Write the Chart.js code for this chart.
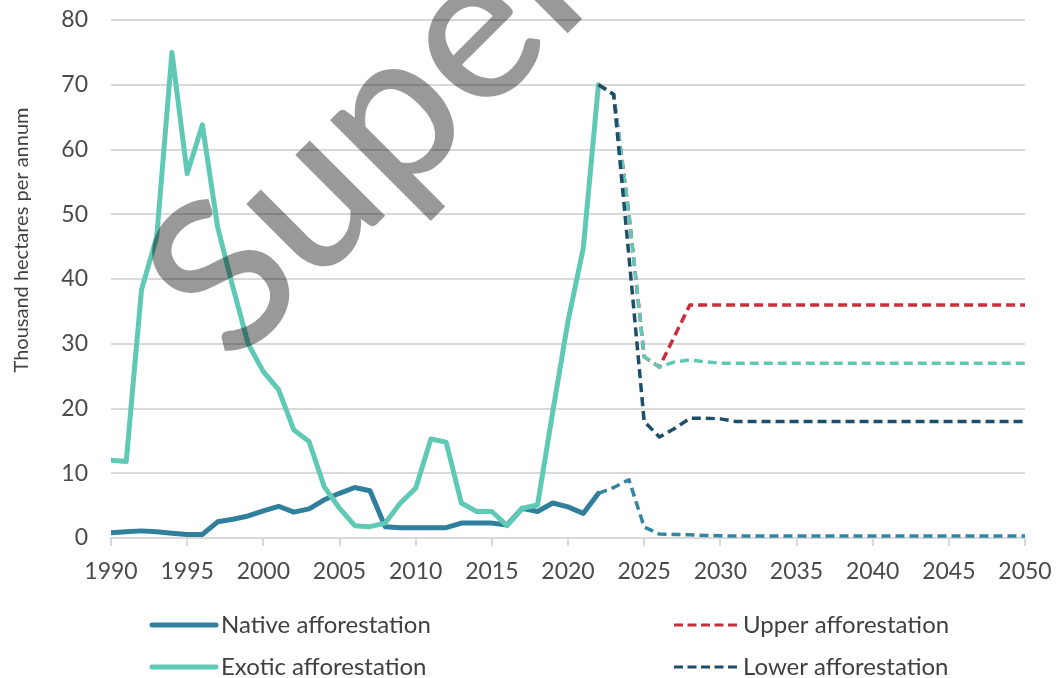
<!DOCTYPE html>
<html>
<head>
<meta charset="utf-8">
<script src="https://cdn.jsdelivr.net/npm/chart.js@4.4.1/dist/chart.umd.min.js"></script>
<style>
    html, body { margin: 0; padding: 0; background: #ffffff; }
    #wrap { width: 1056px; height: 678px; }
</style>
</head>
<body>
<div id="wrap"><canvas id="grafico" width="1056" height="678"></canvas></div>
<script>
const histYears = [1990, 1991, 1992, 1993, 1994, 1995, 1996, 1997, 1998, 1999,
    2000, 2001, 2002, 2003, 2004, 2005, 2006, 2007, 2008, 2009,
    2010, 2011, 2012, 2013, 2014, 2015, 2016, 2017, 2018, 2019,
    2020, 2021, 2022];
const projYears = [2022, 2023, 2024, 2025, 2026, 2027, 2028, 2029, 2030, 2031,
    2032, 2033, 2034, 2035, 2036, 2037, 2038, 2039, 2040, 2041,
    2042, 2043, 2044, 2045, 2046, 2047, 2048, 2049, 2050];

const nativeHist = [0.8, 0.95, 1.1, 0.95, 0.75, 0.55, 0.55, 2.5, 2.9, 3.4,
    4.2, 4.9, 4.0, 4.5, 5.9, 6.9, 7.8, 7.3, 1.75, 1.6,
    1.6, 1.6, 1.6, 2.3, 2.3, 2.3, 2.0, 4.6, 4.1, 5.4,
    4.8, 3.8, 6.9];
const exoticHist = [12.0, 11.8, 38.3, 46.5, 75.0, 56.3, 63.8, 48.0, 38.8, 30.0,
    25.7, 22.9, 16.7, 14.9, 7.9, 4.6, 1.9, 1.75, 2.3, 5.4,
    7.7, 15.3, 14.8, 5.4, 4.1, 4.1, 1.9, 4.6, 5.1, 19.5,
    33.5, 44.7, 70.0];

const nativeProj = [6.9, 7.8, 9.0, 1.7, 0.6, 0.55, 0.5, 0.4, 0.35, 0.3,
    0.3, 0.3, 0.3, 0.3, 0.3, 0.3, 0.3, 0.3, 0.3, 0.3,
    0.3, 0.3, 0.3, 0.3, 0.3, 0.3, 0.3, 0.3, 0.3];
const exoticProj = [70.0, 68.5, 50.0, 28.0, 26.4, 27.2, 27.5, 27.2, 27.0, 27.0,
    27.0, 27.0, 27.0, 27.0, 27.0, 27.0, 27.0, 27.0, 27.0, 27.0,
    27.0, 27.0, 27.0, 27.0, 27.0, 27.0, 27.0, 27.0, 27.0];
const upperProj = [70.0, 68.5, 50.0, 28.0, 26.4, 31.2, 36.0, 36.0, 36.0, 36.0,
    36.0, 36.0, 36.0, 36.0, 36.0, 36.0, 36.0, 36.0, 36.0, 36.0,
    36.0, 36.0, 36.0, 36.0, 36.0, 36.0, 36.0, 36.0, 36.0];
const lowerProj = [70.0, 68.5, 43.5, 18.0, 15.6, 16.9, 18.5, 18.5, 18.4, 18.0,
    18.0, 18.0, 18.0, 18.0, 18.0, 18.0, 18.0, 18.0, 18.0, 18.0,
    18.0, 18.0, 18.0, 18.0, 18.0, 18.0, 18.0, 18.0, 18.0];

const yTicks = [0, 10, 20, 30, 40, 50, 60, 70, 80];
const xTicks = [1990, 1995, 2000, 2005, 2010, 2015, 2020, 2025, 2030, 2035, 2040, 2045, 2050];

const corNativo = '#2f7f9d';
const corExotico = '#5fc9b6';
const corSuperior = '#c5303c';
const corInferior = '#1c4f69';

const fonte = 'Lato, "Open Sans", sans-serif';

function pontos(xs, ys) {
    return xs.map((x, i) => ({ x: x, y: ys[i] }));
}

const legendaItens = [
    { texto: 'Native afforestation', cor: corNativo, tracejado: false, col: 0, lin: 0 },
    { texto: 'Upper afforestation', cor: corSuperior, tracejado: true, col: 1, lin: 0 },
    { texto: 'Exotic afforestation', cor: corExotico, tracejado: false, col: 0, lin: 1 },
    { texto: 'Lower afforestation', cor: corInferior, tracejado: true, col: 1, lin: 1 }
];

// desenha titulo do eixo, legenda e a marca d'agua
const extras = {
    id: 'extras',
    afterDraw(chart) {
        const ctx = chart.ctx;

        ctx.save();
        ctx.translate(22, 240);
        ctx.rotate(-Math.PI / 2);
        ctx.font = '20px ' + fonte;
        ctx.fillStyle = '#404040';
        ctx.textAlign = 'center';
        ctx.textBaseline = 'middle';
        ctx.fillText('Thousand hectares per annum', 0, 0);
        ctx.restore();

        const colX = [150, 672];
        const linY = [625, 667];
        legendaItens.forEach(item => {
            const x = colX[item.col];
            const y = linY[item.lin];
            ctx.save();
            ctx.strokeStyle = item.cor;
            if (item.tracejado) {
                ctx.lineWidth = 3;
                ctx.setLineDash([9, 4.5]);
                ctx.lineCap = 'butt';
            } else {
                ctx.lineWidth = 5;
                ctx.lineCap = 'round';
            }
            ctx.beginPath();
            ctx.moveTo(x + 2, y);
            ctx.lineTo(x + 66, y);
            ctx.stroke();
            ctx.setLineDash([]);
            ctx.font = '24px ' + fonte;
            ctx.fillStyle = '#404040';
            ctx.textAlign = 'left';
            ctx.textBaseline = 'middle';
            ctx.fillText(item.texto, x + 71, y);
            ctx.restore();
        });

        ctx.save();
        ctx.translate(233, 368);
        ctx.rotate(-Math.PI / 4);
        ctx.font = '500 210px ' + fonte;
        ctx.fillStyle = 'rgba(0, 0, 0, 0.4)';
        ctx.textAlign = 'left';
        ctx.textBaseline = 'alphabetic';
        ctx.fillText('Super', 0, 0);
        ctx.restore();
    }
};

const ctx = document.getElementById('grafico').getContext('2d');

new Chart(ctx, {
    type: 'line',
    data: {
        datasets: [
            {
                label: 'Lower afforestation',
                data: pontos(projYears, lowerProj),
                borderColor: corInferior,
                borderWidth: 3.5,
                borderDash: [9, 5]
            },
            {
                label: 'Exotic projection',
                data: pontos(projYears, exoticProj),
                borderColor: corExotico,
                borderWidth: 3.5,
                borderDash: [9, 5]
            },
            {
                label: 'Upper afforestation',
                data: pontos(projYears, upperProj),
                borderColor: corSuperior,
                borderWidth: 3.5,
                borderDash: [9, 5]
            },
            {
                label: 'Native projection',
                data: pontos(projYears, nativeProj),
                borderColor: '#3584a2',
                borderWidth: 3.5,
                borderDash: [9, 5]
            },
            {
                label: 'Exotic afforestation',
                data: pontos(histYears, exoticHist),
                borderColor: corExotico,
                borderWidth: 5,
                borderCapStyle: 'round'
            },
            {
                label: 'Native afforestation',
                data: pontos(histYears, nativeHist),
                borderColor: corNativo,
                borderWidth: 5,
                borderCapStyle: 'round'
            }
        ]
    },
    options: {
        responsive: false,
        animation: false,
        layout: {
            padding: { left: 0, right: 31, top: 20, bottom: 0 }
        },
        elements: {
            point: { radius: 0 },
            line: { tension: 0, borderJoinStyle: 'round', fill: false }
        },
        scales: {
            x: {
                type: 'linear',
                min: 1990,
                max: 2050,
                afterBuildTicks: (s) => { s.ticks = xTicks.map(v => ({ value: v })); },
                afterFit: (s) => {
                    s.height = 140;
                    s.paddingLeft = 0;
                    s.paddingRight = 0;
                },
                grid: {
                    drawOnChartArea: false,
                    drawTicks: true,
                    tickLength: 8,
                    color: '#d9d9d9',
                    lineWidth: 2
                },
                border: { display: true, color: '#d9d9d9', width: 2 },
                ticks: {
                    padding: 12,
                    color: '#4a4a4a',
                    font: { family: fonte, size: 23 },
                    maxRotation: 0,
                    callback: (v) => String(v)
                }
            },
            y: {
                min: 0,
                max: 80,
                afterBuildTicks: (s) => { s.ticks = yTicks.map(v => ({ value: v })); },
                afterFit: (s) => {
                    s.width = 111;
                    s.paddingTop = 0;
                    s.paddingBottom = 0;
                },
                grid: {
                    drawTicks: false,
                    color: '#d9d9d9',
                    lineWidth: 2
                },
                border: { display: false },
                ticks: {
                    padding: 23,
                    color: '#4a4a4a',
                    font: { family: fonte, size: 23 },
                    callback: (v) => String(v)
                }
            }
        },
        plugins: {
            legend: { display: false },
            tooltip: { enabled: false }
        }
    },
    plugins: [extras]
});
</script>
</body>
</html>
